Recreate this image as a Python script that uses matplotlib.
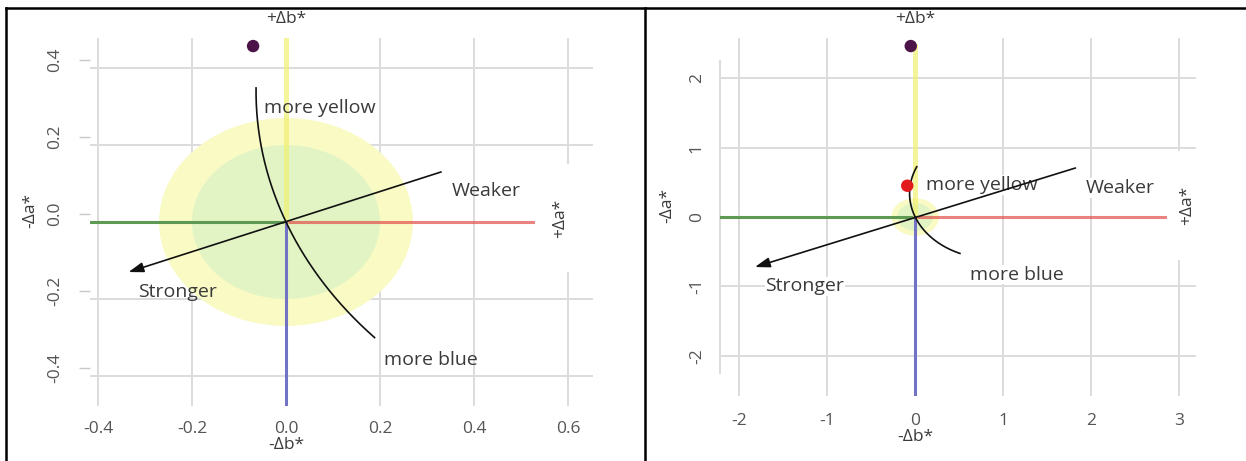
import numpy as np
import matplotlib.pyplot as plt
from matplotlib.patches import Circle
from matplotlib.lines import Line2D
from matplotlib.transforms import ScaledTranslation

plt.rcParams['font.family'] = ['Open Sans', 'DejaVu Sans']

GRID = '#dcdcdc'
TICK_TEXT = '#555555'
NOTE_TEXT = '#3a3a3a'

# tolerance rings around the standard (outer, inner)
ring_radii = [0.27, 0.20]
ring_colors = ['#fafac4', '#e2f4c4']

# hue arc centre, radius follows from passing through the origin
arc_center = (0.875, 0.34)

note_text = ['more yellow', 'Weaker', 'Stronger', 'more blue']

# left panel: small differences
p1_xticks = [-0.4, -0.2, 0.0, 0.2, 0.4, 0.6]
p1_yticks = [-0.4, -0.2, 0.0, 0.2, 0.4]
p1_xlim = (-0.417, 0.653)
p1_ylim = (-0.478, 0.478)
p1_sample_x = [-0.07]
p1_sample_y = [0.457]
p1_sample_colors = ['#4b1347']
p1_red_end = 0.526
p1_yellow_end = 0.478
p1_arc_deg = (179.5, 223.0)
p1_weaker = (0.33, 0.13)
p1_stronger = (-0.335, -0.13)
p1_note_x = [-0.047, 0.353, -0.315, 0.209]
p1_note_y = [0.296, 0.08, -0.182, -0.358]
p1_plus_a = (0.583, 0.01)

# right panel: larger differences
p2_xticks = [-2, -1, 0, 1, 2, 3]
p2_yticks = [-2, -1, 0, 1, 2]
p2_xlim = (-2.216, 3.19)
p2_ylim = (-2.576, 2.576)
p2_sample_x = [-0.05, -0.09]
p2_sample_y = [2.46, 0.45]
p2_sample_colors = ['#4b1347', '#e31a1c']
p2_red_end = 2.84
p2_yellow_end = 2.46
p2_arc_deg = (155.9, 247.0)
p2_weaker = (1.82, 0.705)
p2_stronger = (-1.82, -0.72)
p2_note_x = [0.12, 1.94, -1.7, 0.625]
p2_note_y = [0.46, 0.42, -1.0, -0.83]
p2_plus_a = (3.09, 0.17)
p2_spine_bounds = (-2.24, 2.24)


def fmt(v):
    return f'{v:.1f}' if isinstance(v, float) else str(v)


def draw_panel(ax, xticks, yticks, xlim, ylim, sx, sy, scol, red_end,
               yellow_end, arc_deg, weaker, stronger, nx, ny, plus_a,
               ytick_len, ylabel_pad, xlabel_pad, ytick_shift, bottom_off,
               side_off, note_box):
    ax.set_xlim(*xlim)
    ax.set_ylim(*ylim)
    ax.set_xticks(xticks)
    ax.set_yticks(yticks)
    ax.set_xticklabels([fmt(v) for v in xticks])
    ax.set_yticklabels([fmt(v) for v in yticks], rotation=90, va='center')
    ax.set_axisbelow(True)
    ax.grid(True, color=GRID, lw=1.4)
    # the colour axes take the place of the zero grid lines
    for line, v in zip(ax.get_xgridlines(), xticks):
        line.set_visible(v != 0)
    for line, v in zip(ax.get_ygridlines(), yticks):
        line.set_visible(v != 0)
    for s in ax.spines.values():
        s.set_visible(False)
    ax.tick_params(axis='x', length=0, pad=xlabel_pad, labelsize=12.5, labelcolor=TICK_TEXT)
    ax.tick_params(axis='y', length=ytick_len, width=1, color='#c8c8c8',
                   pad=ylabel_pad, labelsize=12.5, labelcolor=TICK_TEXT)

    # tolerance rings
    for r, c in zip(ring_radii, ring_colors):
        ax.add_patch(Circle((0, 0), r, facecolor=c, edgecolor='none', zorder=1))

    # colour axes
    ax.plot([xlim[0], 0], [0, 0], color='#5f9a55', lw=2.2, zorder=3)
    ax.plot([0, red_end], [0, 0], color='#e04040', alpha=0.65, lw=2.2, zorder=3)
    ax.plot([0, 0], [0, yellow_end], color='#f0f070', alpha=0.7, lw=3.6, zorder=3)
    ax.plot([0, 0], [0, ylim[0]], color='#7373c6', lw=2.2, zorder=3)

    # hue arc
    cx, cy = arc_center
    rad = np.hypot(cx, cy)
    t = np.radians(np.linspace(arc_deg[0], arc_deg[1], 200))
    ax.plot(cx + rad * np.cos(t), cy + rad * np.sin(t), color='#111111', lw=1.2, zorder=4)

    # chroma direction
    ax.annotate('', xy=stronger, xytext=weaker,
                arrowprops=dict(arrowstyle='-|>,head_length=0.9,head_width=0.3',
                                color='#111111', lw=1.2, shrinkA=0, shrinkB=0),
                zorder=4)

    ax.scatter(sx, sy, s=80, c=scol, zorder=5, edgecolors='none')

    box = dict(fc='white', ec='none', pad=0.5) if note_box else None
    for txt, x, y in zip(note_text, nx, ny):
        ax.text(x, y, txt, ha='left', va='center', fontsize=14, color=NOTE_TEXT,
                zorder=3.5, bbox=box)

    ax.annotate('+\u0394b*', xy=(0, 1), xycoords=('data', 'axes fraction'),
                xytext=(0, 19), textcoords='offset pixels', ha='center', va='center',
                fontsize=12.5, color=NOTE_TEXT)
    ax.annotate('-\u0394b*', xy=(0, 0), xycoords=('data', 'axes fraction'),
                xytext=(0, -bottom_off), textcoords='offset pixels', ha='center',
                va='center', fontsize=12.5, color=NOTE_TEXT)
    ax.annotate('-\u0394a*', xy=(0, 0), xycoords=('axes fraction', 'data'),
                xytext=(-side_off, 12), textcoords='offset pixels', ha='center',
                va='center', rotation=90, fontsize=12.5, color=NOTE_TEXT)
    ax.text(plus_a[0], plus_a[1], '+\u0394a*', ha='center', va='center', rotation=90,
            fontsize=12.5, color=NOTE_TEXT, zorder=2,
            bbox=dict(fc='white', ec='none', boxstyle='square,pad=2.0'))

    if ytick_shift:
        shift = ScaledTranslation(0, ytick_shift / 100, ax.figure.dpi_scale_trans)
        for tick in ax.yaxis.get_major_ticks():
            tick.tick1line.set_transform(tick.tick1line.get_transform() + shift)
            tick.label1.set_transform(tick.label1.get_transform() + shift)


fig = plt.figure(figsize=(12.46, 4.61), dpi=100)
ax1 = fig.add_axes([0.0722, 0.1193, 0.4037, 0.7983])
ax2 = fig.add_axes([0.5779, 0.1410, 0.3820, 0.7766])

draw_panel(ax1, p1_xticks, p1_yticks, p1_xlim, p1_ylim, p1_sample_x, p1_sample_y,
           p1_sample_colors, p1_red_end, p1_yellow_end, p1_arc_deg, p1_weaker,
           p1_stronger, p1_note_x, p1_note_y, p1_plus_a,
           ytick_len=8, ylabel_pad=11, xlabel_pad=11, ytick_shift=8,
           bottom_off=39, side_off=60, note_box=False)
draw_panel(ax2, p2_xticks, p2_yticks, p2_xlim, p2_ylim, p2_sample_x, p2_sample_y,
           p2_sample_colors, p2_red_end, p2_yellow_end, p2_arc_deg, p2_weaker,
           p2_stronger, p2_note_x, p2_note_y, p2_plus_a,
           ytick_len=0, ylabel_pad=11, xlabel_pad=12, ytick_shift=0,
           bottom_off=41, side_off=53, note_box=True)

# faint left axis line on the right panel
ax2.spines['left'].set_visible(True)
ax2.spines['left'].set_color(GRID)
ax2.spines['left'].set_linewidth(1.4)
ax2.spines['left'].set_bounds(*p2_spine_bounds)

# table cell borders
top = 1 - 8 / 461
for xs, ys in [([6 / 1246, 1.0], [top, top]),
               ([6 / 1246, 6 / 1246], [0, top]),
               ([645 / 1246, 645 / 1246], [0, top])]:
    fig.add_artist(Line2D(xs, ys, transform=fig.transFigure, color='black', lw=1.8))

fig.savefig('out.png', dpi=100)
